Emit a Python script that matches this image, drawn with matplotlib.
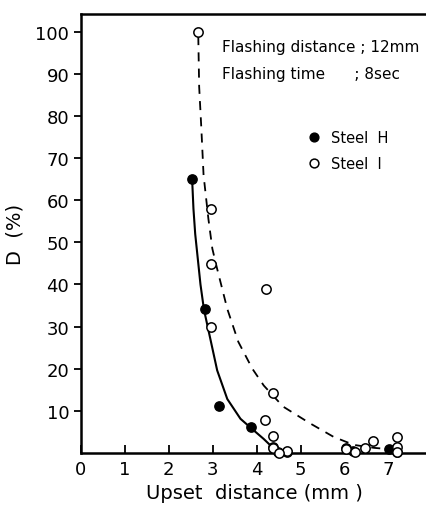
"""Recreate the D (%) vs upset distance chart for Steel H and Steel I."""
import matplotlib
matplotlib.use("Agg")
import matplotlib.pyplot as plt

# measured points
steel_h_x = [2.53, 2.83, 3.15, 3.86, 4.36, 4.48, 4.70, 6.03, 6.18, 7.00, 7.20]
steel_h_y = [65.1, 34.2, 11.2, 6.2, 1.4, 0.3, 0.2, 1.2, 0.5, 1.0, 0.2]

steel_i_x = [2.67, 2.95, 2.95, 2.97, 4.22, 4.38, 4.18, 4.38, 4.38, 4.68, 4.50,
             6.03, 6.23, 6.47, 6.65, 7.20, 7.20, 7.20]
steel_i_y = [100.0, 58.0, 44.8, 30.0, 39.0, 14.2, 7.8, 4.0, 1.1, 0.4, 0.0,
             1.0, 0.2, 1.2, 2.9, 3.8, 1.4, 0.2]

# fitted curves
curve_h_x = [2.53, 2.56, 2.60, 2.65, 2.72, 2.80, 2.95, 3.10, 3.33, 3.63, 3.86,
             4.16, 4.38, 4.55]
curve_h_y = [65.0, 58.0, 52.0, 47.0, 40.0, 34.0, 26.8, 19.6, 12.8, 8.1, 6.0,
             3.3, 1.1, 0.2]

curve_i_x = [2.67, 2.69, 2.74, 2.79, 2.90, 2.99, 3.10, 3.33, 3.58, 3.90, 4.16,
             4.60, 5.20, 5.75, 6.21, 6.67, 7.00]
curve_i_y = [99.0, 87.0, 77.0, 66.0, 55.6, 48.5, 43.7, 34.2, 26.4, 20.0, 16.0,
             11.0, 7.1, 3.8, 1.9, 1.2, 0.9]

x_ticks = [0, 1, 2, 3, 4, 5, 6, 7]
y_ticks = [10, 20, 30, 40, 50, 60, 70, 80, 90, 100]

fig = plt.figure(figsize=(4.26, 5.10), dpi=100)
ax = fig.add_axes([0.190, 0.110, 0.815, 0.861])

ax.plot(curve_h_x, curve_h_y, color="black", linewidth=1.5)
ax.plot(curve_i_x, curve_i_y, color="black", linewidth=1.3, linestyle=(0, (5, 4)))
ax.scatter(steel_h_x, steel_h_y, s=45, color="black", zorder=3, clip_on=False)
ax.scatter(steel_i_x, steel_i_y, s=45, facecolor="white", edgecolor="black",
           linewidth=1.1, zorder=4, clip_on=False)

ax.set_xlim(0, 7.9)
ax.set_ylim(0, 104.3)
ax.set_xticks(x_ticks)
ax.set_yticks(y_ticks)
ax.tick_params(axis="x", direction="in", length=6, width=1.3, labelsize=13, pad=5)
ax.tick_params(axis="y", direction="out", length=5, width=1.3, labelsize=13)
for side in ["left", "bottom", "top"]:
    ax.spines[side].set_linewidth(1.8)
ax.spines["right"].set_visible(False)

ax.set_xlabel("Upset  distance (mm )", fontsize=14, labelpad=4)
ax.set_ylabel("D  (%)", fontsize=14, labelpad=8)

ax.text(3.2, 96.5, "Flashing distance ; 12mm", fontsize=11, va="center", clip_on=False)
ax.text(3.2, 90.0, "Flashing time      ; 8sec", fontsize=11, va="center", clip_on=False)

ax.scatter([5.3], [75.0], s=40, color="black", clip_on=False)
ax.scatter([5.3], [68.8], s=40, facecolor="white", edgecolor="black", linewidth=1.1, clip_on=False)
ax.text(5.7, 75.0, "Steel  H", fontsize=10.5, va="center")
ax.text(5.7, 68.8, "Steel  I", fontsize=10.5, va="center")

fig.savefig("out.png", dpi=100)
plt.close(fig)
